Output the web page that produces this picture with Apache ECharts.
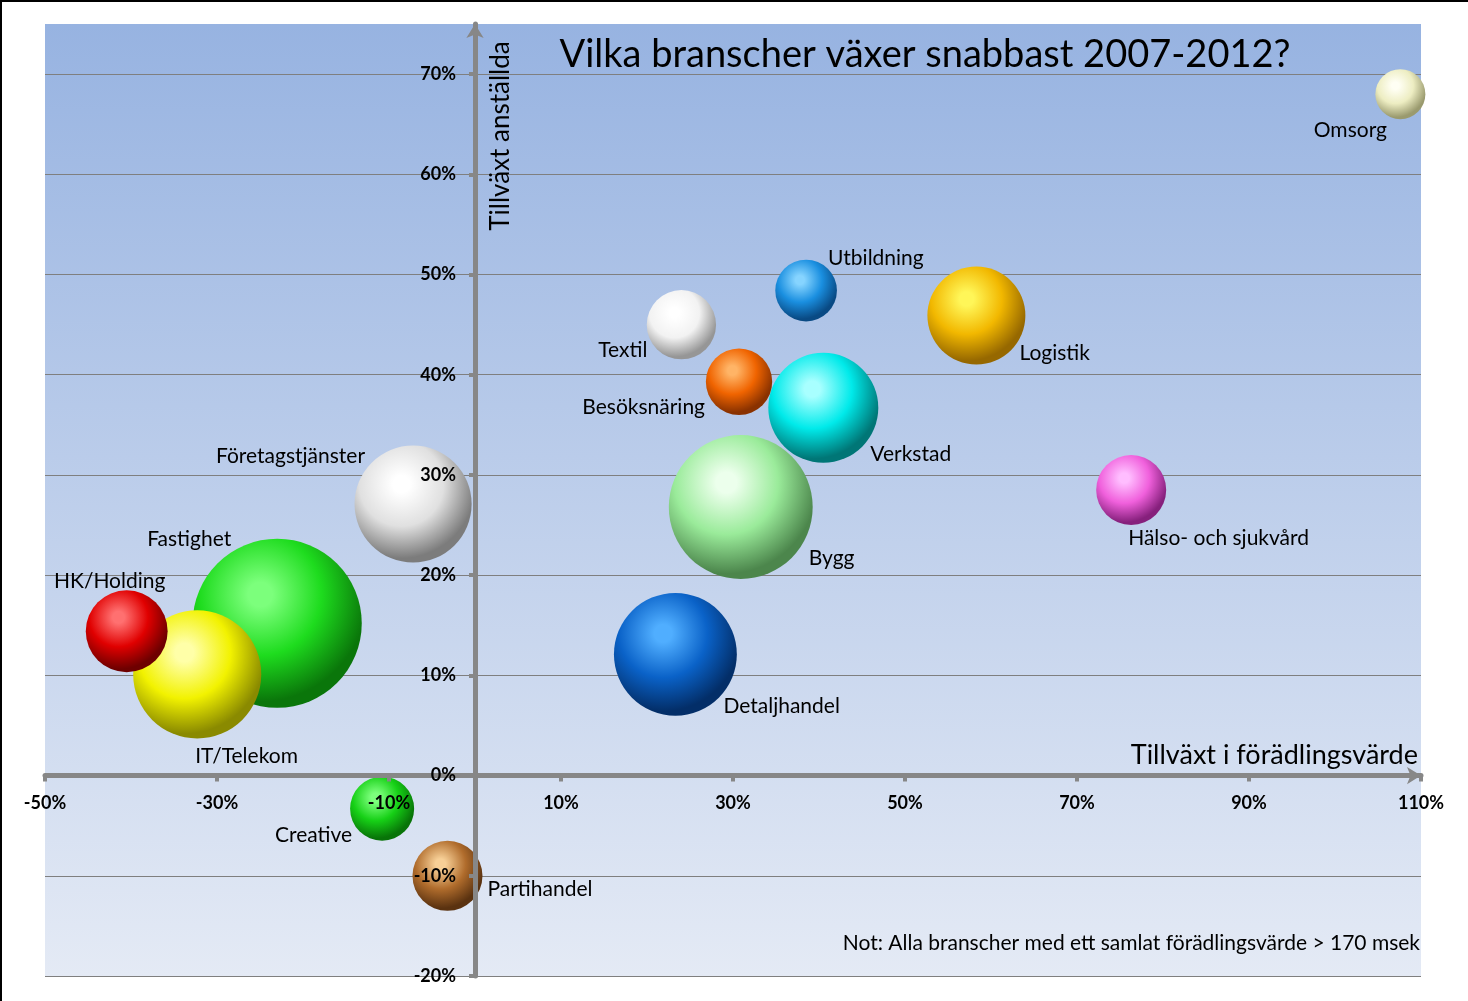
<!DOCTYPE html>
<html><head><meta charset="utf-8">
<script src="https://cdn.jsdelivr.net/npm/echarts@6/dist/echarts.min.js"></script>
<style>html,body{margin:0;padding:0;background:#fff}#c{width:1468px;height:1001px}</style>
</head><body><div id="c"></div>
<script>
// ---- data ----
const branscher = ['Fastighet','IT/Telekom','HK/Holding','Företagstjänster','Creative','Partihandel','Detaljhandel','Bygg','Verkstad','Besöksnäring','Textil','Utbildning','Logistik','Hälso- och sjukvård','Omsorg'];
const tillvaxtForadlingsvarde = [-23.0,-32.3,-40.5,-7.2,-10.8,-3.2,23.3,30.9,40.5,30.7,24.0,38.5,58.3,76.3,107.6];
const tillvaxtAnstallda = [15.2,10.1,14.4,27.1,-3.3,-10.0,12.1,26.8,36.7,39.3,45.0,48.4,45.9,28.5,68.0];
const bubbelStorlek = [286,164,67,137,41,49,151,207,121,44,48,38,96,49,25];
const xTickLabels = [-50,-30,-10,10,30,50,70,90,110];
const yTickLabels = [-20,-10,0,10,20,30,40,50,60,70];

// ---- styles ----
const sphereColors = {
  'Fastighet':['#7CFF7C','#1EDC1E','#0A760A'],
  'IT/Telekom':['#FFFFA8','#F2F200','#8A8A00'],
  'HK/Holding':['#FF7070','#E00000','#6E0000'],
  'Företagstjänster':['#FFFFFF','#E0E0E0','#7C7C7C'],
  'Creative':['#7CFF7C','#16D016','#087408'],
  'Partihandel':['#F7CF96','#B06C2C','#5A3210'],
  'Detaljhandel':['#50AEFF','#0A62C8','#032E68'],
  'Bygg':['#ECFFEC','#9AEB9A','#4C864C'],
  'Verkstad':['#A8FFFF','#00EAEA','#007676'],
  'Besöksnäring':['#FFB466','#F06400','#8A3200'],
  'Textil':['#FFFFFF','#F2F2F2','#969696'],
  'Utbildning':['#86D4FF','#1A8FE0','#094A84'],
  'Logistik':['#FFF658','#F2B800','#966800'],
  'Hälso- och sjukvård':['#FFBDFF','#F060DC','#86207C'],
  'Omsorg':['#FFFFF4','#EDEDC2','#9A9A6E']
};
// label placement relative to bubble centre: [align, dx, dy]
const labelPlace = {
  'Fastighet':['right',-46,-84],
  'IT/Telekom':['left',-2,82],
  'HK/Holding':['center',-17,-50],
  'Företagstjänster':['right',-48,-48],
  'Creative':['right',-30,27],
  'Partihandel':['left',40,13],
  'Detaljhandel':['left',48,52],
  'Bygg':['left',68,51],
  'Verkstad':['left',47,46],
  'Besöksnäring':['right',-34,25],
  'Textil':['right',-34,26],
  'Utbildning':['left',22,-32],
  'Logistik':['left',43,38],
  'Hälso- och sjukvård':['left',-3,48],
  'Omsorg':['center',-50,36]
};
const FONT = 'Lato';
function sphere(c){
  return new echarts.graphic.RadialGradient(0.4, 0.33, 0.72, [
    {offset:0, color:c[0]},{offset:0.1, color:c[0]},
    {offset:0.5, color:c[1]},{offset:0.88, color:c[2]},{offset:1, color:c[2]}
  ]);
}
const seriesData = branscher.map((n,i)=>({
  name:n,
  value:[tillvaxtForadlingsvarde[i], tillvaxtAnstallda[i], bubbelStorlek[i]],
  itemStyle:{color:sphere(sphereColors[n]), opacity:1},
  label:{show:true, position:'inside', align:labelPlace[n][0], verticalAlign:'middle',
    offset:[labelPlace[n][1], labelPlace[n][2]], formatter:'{b}', color:'#000',
    fontSize:21, fontFamily:FONT, textBorderWidth:0}
}));

const axisGray = '#878787';
const X_MIN=-50, X_MAX=110, Y_MIN=-20, Y_MAX=75;
// plot area in pixels
const PL=45, PR=47, PT=24, PB=25, W=1468, H=1001;
const plotW = W-PL-PR, plotH = H-PT-PB;
const zeroX = PL + (0-X_MIN)/(X_MAX-X_MIN)*plotW;
const zeroY = PT + (Y_MAX-0)/(Y_MAX-Y_MIN)*plotH;

const chart = echarts.init(document.getElementById('c'), null, {renderer:'canvas'});
chart.setOption({
  animation:false,
  backgroundColor:'#fff',
  grid:[
    {left:PL, right:PR, top:PT, bottom:PB, show:true, borderWidth:0, outerBoundsMode:'none', containLabel:false,
      backgroundColor:new echarts.graphic.LinearGradient(0,0,0,1,[{offset:0,color:'#97B3E1'},{offset:1,color:'#E4EAF5'}])},
    // grid whose bottom edge is the y=0 line: carries the x axis
    {left:PL, right:PR, top:PT, bottom:H-zeroY, show:false, outerBoundsMode:'none', containLabel:false},
    // grid whose left edge is the x=0 line: carries the y axis
    {left:zeroX, right:PR, top:PT, bottom:PB, show:false, outerBoundsMode:'none', containLabel:false}
  ],
  xAxis:[
    {gridIndex:0, type:'value', min:X_MIN, max:X_MAX, interval:10, show:false},
    {gridIndex:1, type:'value', min:X_MIN, max:X_MAX, interval:10, z:10, position:'bottom',
      axisLine:{show:true, onZero:false, symbol:['none','arrow'], symbolSize:[13,14],
        lineStyle:{color:axisGray, width:5}},
      axisTick:{show:true, customValues:xTickLabels, length:6, lineStyle:{color:axisGray, width:4}},
      axisLabel:{customValues:xTickLabels, formatter:v=>v+'%', fontWeight:'bold', fontSize:18, fontFamily:FONT, color:'#000', margin:19},
      splitLine:{show:false}},
    {gridIndex:2, type:'value', min:0, max:X_MAX, show:false}
  ],
  yAxis:[
    {gridIndex:0, type:'value', min:Y_MIN, max:Y_MAX, interval:10,
      axisLine:{show:false}, axisTick:{show:false, customValues:yTickLabels}, axisLabel:{show:false},
      splitLine:{show:true, lineStyle:{color:'#7F7F7F', width:1}}},
    {gridIndex:1, type:'value', min:0, max:Y_MAX, show:false},
    {gridIndex:2, type:'value', min:Y_MIN, max:Y_MAX, interval:10, z:10, position:'left',
      axisLine:{show:true, onZero:false, symbol:['none','arrow'], symbolSize:[13,14],
        lineStyle:{color:axisGray, width:5}},
      axisTick:{show:true, customValues:yTickLabels, length:6, lineStyle:{color:axisGray, width:4}},
      axisLabel:{customValues:yTickLabels, formatter:v=>v+'%', fontWeight:'bold', fontSize:18, fontFamily:FONT, color:'#000', margin:19},
      splitLine:{show:false}}
  ],
  series:[{
    type:'scatter', xAxisIndex:0, yAxisIndex:0, clip:true,
    symbolSize:v=>Math.sqrt(v[2])*10,
    data:seriesData,
    emphasis:{disabled:true}
  }],
  graphic:[
    {type:'rect', z:50, shape:{x:0,y:0,width:W,height:2}, style:{fill:'#000'}},
    {type:'rect', z:50, shape:{x:0,y:0,width:2,height:H}, style:{fill:'#000'}},
    {type:'text', z:30, x:925, y:55, style:{text:'Vilka branscher växer snabbast 2007-2012?', font:'38px '+FONT, fill:'#000', align:'center', verticalAlign:'middle'}},
    {type:'text', z:30, x:501, y:136, rotation:Math.PI/2, style:{text:'Tillväxt anställda', font:'26px '+FONT, fill:'#000', align:'center', verticalAlign:'middle'}},
    {type:'text', z:30, x:1418, y:755, style:{text:'Tillväxt i förädlingsvärde', font:'27px '+FONT, fill:'#000', align:'right', verticalAlign:'middle'}},
    {type:'text', z:30, x:1420, y:943, style:{text:'Not: Alla branscher med ett samlat förädlingsvärde > 170 msek', font:'21px '+FONT, fill:'#000', align:'right', verticalAlign:'middle'}}
  ]
});
</script></body></html>
